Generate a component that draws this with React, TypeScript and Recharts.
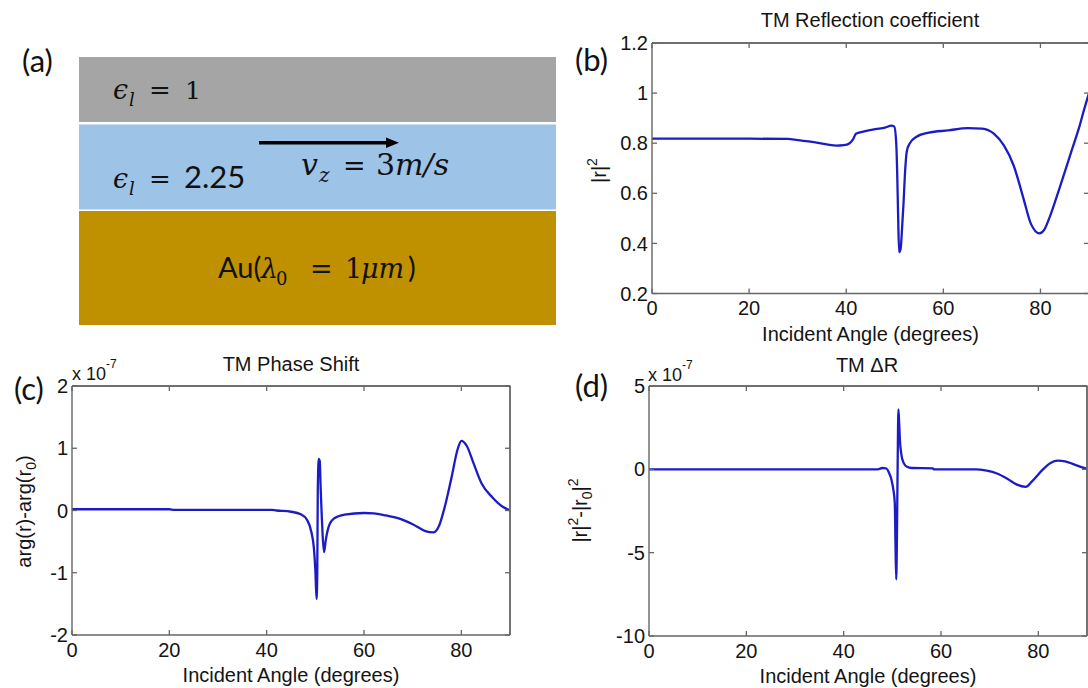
import React from 'react';
import { LineChart, Line, XAxis, YAxis } from 'recharts';

// ---------- data ----------
const anglesB = [0, 10, 20, 28, 30, 33, 36, 38, 39.5, 40.7, 41.4, 42, 43.5, 46, 48, 49.3, 49.9, 50.3, 50.5, 50.7, 50.9, 51.2, 51.5, 51.8, 52.1, 52.5, 53.1, 54.5, 57, 61, 65, 68, 70.4, 72.5, 74.5, 76.5, 78, 79.8, 80.8, 82, 84, 86.5, 88, 89, 90];
const reflB = [0.818, 0.818, 0.818, 0.817, 0.812, 0.805, 0.795, 0.79, 0.792, 0.8, 0.815, 0.838, 0.846, 0.856, 0.862, 0.87, 0.866, 0.8, 0.68, 0.5, 0.365, 0.378, 0.46, 0.56, 0.68, 0.77, 0.8, 0.826, 0.842, 0.851, 0.86, 0.858, 0.838, 0.79, 0.71, 0.58, 0.48, 0.44, 0.455, 0.51, 0.625, 0.775, 0.865, 0.935, 1.0];

const anglesC = [0, 20, 21, 41, 42, 45, 47, 48.3, 49.2, 49.7, 50.0, 50.25, 50.4, 50.5, 50.7, 50.9, 51.1, 51.3, 51.5, 51.8, 52.1, 52.7, 53.8, 56, 60, 62, 64.5, 67.3, 70, 72.6, 74.3, 75.4, 76.5, 77.9, 79.3, 80.0, 81.1, 82.5, 84.2, 86.4, 88.5, 90];
const phaseC = [0.02, 0.02, 0.01, 0.01, 0.0, -0.02, -0.06, -0.15, -0.35, -0.6, -0.95, -1.42, -1.0, 0.3, 0.83, 0.8, 0.35, -0.05, -0.4, -0.67, -0.5, -0.27, -0.13, -0.065, -0.04, -0.045, -0.08, -0.13, -0.22, -0.33, -0.35, -0.25, 0.03, 0.5, 1.0, 1.12, 1.04, 0.76, 0.43, 0.21, 0.06, 0.0];

const anglesD = [0, 47, 48, 48.8, 49.3, 49.8, 50.2, 50.5, 50.65, 50.8, 50.95, 51.1, 51.25, 51.4, 51.55, 51.85, 52.3, 53, 54, 58.3, 58.6, 67, 69.4, 71.5, 73.7, 75.5, 77.4, 78.7, 80.8, 82.5, 84, 85.5, 87.3, 89, 90];
const deltaD = [0, 0, 0.08, 0.05, -0.2, -0.6, -1.2, -2.0, -4.5, -6.6, -4.0, 0.5, 3.6, 2.8, 1.8, 0.9, 0.4, 0.15, 0.08, 0.06, 0.0, 0.0, -0.08, -0.25, -0.58, -0.9, -1.05, -0.72, -0.05, 0.38, 0.52, 0.48, 0.3, 0.12, 0.03];

const xTicks = [0, 20, 40, 60, 80];
const yTicksB = [0.2, 0.4, 0.6, 0.8, 1, 1.2];
const yTicksC = [-2, -1, 0, 1, 2];
const yTicksD = [-10, -5, 0, 5];

const dataB = anglesB.map((a, i) => ({ angle: a, value: reflB[i] }));
const dataC = anglesC.map((a, i) => ({ angle: a, value: phaseC[i] }));
const dataD = anglesD.map((a, i) => ({ angle: a, value: deltaD[i] }));

// ---------- styles ----------
const SANS = "'Liberation Sans', Arial, sans-serif";
const CAL = "Lato, 'Open Sans', sans-serif";
const MATH = "'DejaVu Serif', serif";
const AX = '#666666';
const LINE = '#1c1cc4';
const TXT = '#141414';
const tickStyle = { fill: TXT, fontSize: 20, fontFamily: SANS };
const noTickText = () => <g />;

type Margin = { top: number; right: number; bottom: number; left: number };
type PanelProps = {
  left: number; top: number; width: number; height: number;
  margin: Margin; yWidth: number; xHeight: number;
  data: { angle: number; value: number }[];
  yDomain: [number, number]; yTicks: number[];
  xLabelPos: [number, number];
  yLabel: React.ReactNode; yLabelPos: [number, number];
};

function Panel(p: PanelProps) {
  const xLabel = () => (
    <text x={p.xLabelPos[0]} y={p.xLabelPos[1]} textAnchor="middle" fontSize={20} fontFamily={SANS} fill={TXT}>
      Incident Angle (degrees)
    </text>
  );
  const yLabel = () => (
    <text
      x={p.yLabelPos[0]} y={p.yLabelPos[1]} textAnchor="middle" fontSize={20} fontFamily={SANS} fill={TXT}
      transform={`rotate(-90 ${p.yLabelPos[0]} ${p.yLabelPos[1]})`}
    >
      {p.yLabel}
    </text>
  );
  const axisLine = { stroke: AX, strokeWidth: 1.4 };
  const tickLine = { stroke: AX, strokeWidth: 1.3 };
  return (
    <div style={{ position: 'absolute', left: p.left, top: p.top, width: p.width, height: p.height }}>
      <LineChart width={p.width} height={p.height} data={p.data} margin={p.margin}>
        {/* labelled axes */}
        <XAxis xAxisId="b" dataKey="angle" type="number" domain={[0, 90]} ticks={xTicks} interval={0}
          tickSize={0} tickMargin={7.5} axisLine={axisLine} tickLine={false} tick={tickStyle}
          height={p.xHeight} label={xLabel} allowDataOverflow />
        <YAxis yAxisId="l" type="number" domain={p.yDomain} ticks={p.yTicks} interval={0}
          tickSize={0} tickMargin={4} axisLine={axisLine} tickLine={false} tick={tickStyle}
          width={p.yWidth} label={yLabel} allowDataOverflow />
        {/* mirrored axes: inward tick marks on all four sides */}
        <XAxis xAxisId="bm" dataKey="angle" mirror type="number" domain={[0, 90]} ticks={xTicks} interval={0}
          tickSize={5} tick={noTickText} axisLine={false} tickLine={tickLine} height={1} allowDataOverflow />
        <XAxis xAxisId="tm" dataKey="angle" mirror orientation="top" type="number" domain={[0, 90]} ticks={xTicks} interval={0}
          tickSize={5} tick={noTickText} axisLine={axisLine} tickLine={tickLine} height={1} allowDataOverflow />
        <YAxis yAxisId="lm" mirror type="number" domain={p.yDomain} ticks={p.yTicks} interval={0}
          tickSize={5} tick={noTickText} axisLine={false} tickLine={tickLine} width={1} allowDataOverflow />
        <YAxis yAxisId="rm" mirror orientation="right" type="number" domain={p.yDomain} ticks={p.yTicks} interval={0}
          tickSize={5} tick={noTickText} axisLine={axisLine} tickLine={tickLine} width={1} allowDataOverflow />
        {/* invisible series that bind the frame axes */}
        <Line xAxisId="bm" yAxisId="lm" dataKey="value" stroke="none" strokeWidth={0}
          dot={false} activeDot={false} isAnimationActive={false} />
        <Line xAxisId="tm" yAxisId="rm" dataKey="value" stroke="none" strokeWidth={0}
          dot={false} activeDot={false} isAnimationActive={false} />
        <Line xAxisId="b" yAxisId="l" dataKey="value" type="monotone" stroke={LINE} strokeWidth={2.3}
          dot={false} activeDot={false} isAnimationActive={false} />
      </LineChart>
    </div>
  );
}

export default function App() {
  return (
    <div style={{ position: 'absolute', left: 0, top: 0, width: 1088, height: 688, overflow: 'hidden', background: '#fff' }}>
      {/* (b) */}
      <Panel left={560} top={0} width={540} height={345}
        margin={{ top: 43, right: 11, bottom: 5, left: 30 }} yWidth={62} xHeight={46.5}
        data={dataB} yDomain={[0.2, 1.2]} yTicks={yTicksB}
        xLabelPos={[310.5, 340.5]} yLabelPos={[46, 170.5]}
        yLabel={<>|r|<tspan fontSize={14} dy={-9}>2</tspan></>} />
      {/* (c) */}
      <Panel left={0} top={340} width={540} height={348}
        margin={{ top: 46, right: 30, bottom: 5, left: 12 }} yWidth={60} xHeight={48}
        data={dataC} yDomain={[-2, 2]} yTicks={yTicksC}
        xLabelPos={[291, 342]} yLabelPos={[31, 171.5]}
        yLabel={<>arg(r)-arg(r<tspan fontSize={14} dy={5}>0</tspan><tspan dy={-5}>)</tspan></>} />
      {/* (d) */}
      <Panel left={540} top={340} width={560} height={348}
        margin={{ top: 46, right: 13, bottom: 5, left: 39 }} yWidth={70} xHeight={47}
        data={dataD} yDomain={[-10, 5]} yTicks={yTicksD}
        xLabelPos={[328, 343]} yLabelPos={[47, 170.5]}
        yLabel={<>|r|<tspan fontSize={14} dy={-9}>2</tspan><tspan dy={9}>-|r</tspan><tspan fontSize={14} dy={5}>0</tspan><tspan dy={-5}>|</tspan><tspan fontSize={14} dy={-9}>2</tspan></>} />

      {/* overlay: diagram (a), titles, panel letters, frame closing lines */}
      <svg width={1088} height={688} style={{ position: 'absolute', left: 0, top: 0, pointerEvents: 'none' }}>
        {/* top / right frame edges of the three plots */}
        <g stroke={AX} strokeWidth={1.4} fill="none">
          <polyline points="652,43 1089,43" />
          <polyline points="72,386 510,386 510,635" />
          <polyline points="649,386 1087,386 1087,636" />
        </g>

        {/* layers */}
        <rect x={79} y={57} width={477} height={65} fill="#a5a5a5" />
        <rect x={79} y={124.5} width={477} height={85} fill="#9dc3e6" />
        <rect x={79} y={211} width={477} height={114} fill="#bf9000" />

        {/* row 1 */}
        <text fill="#111" fontFamily={MATH}>
          <tspan x={113} y={99} fontSize={27} fontStyle="italic">ϵ</tspan>
          <tspan x={129} y={106} fontSize={18} fontStyle="italic">l</tspan>
          <tspan x={149} y={99} fontSize={26}>=</tspan>
          <tspan x={185} y={99} fontSize={25}>1</tspan>
        </text>
        {/* row 2 */}
        <text fill="#111" fontFamily={MATH}>
          <tspan x={113} y={188} fontSize={27} fontStyle="italic">ϵ</tspan>
          <tspan x={129} y={195} fontSize={18} fontStyle="italic">l</tspan>
          <tspan x={149} y={188} fontSize={26}>=</tspan>
        </text>
        <text x={184} y={188} fill="#111" fontFamily={CAL} fontSize={31}>2.25</text>
        {/* arrow */}
        <line x1={259} y1={142.7} x2={388} y2={142.7} stroke="#000" strokeWidth={3.5} />
        <polygon points="386,137.5 399,142.7 386,148" fill="#000" />
        <text fill="#111" fontFamily={MATH}>
          <tspan x={301} y={175} fontSize={30} fontStyle="italic">v</tspan>
          <tspan x={319} y={182} fontSize={20} fontStyle="italic">z</tspan>
          <tspan x={343} y={175} fontSize={27}>=</tspan>
          <tspan x={376} y={175} fontSize={30}>3</tspan>
          <tspan fontSize={30} fontStyle="italic">m/s</tspan>
        </text>
        {/* Au row */}
        <text x={218} y={278} fill="#111" fontFamily={CAL} fontSize={29}>Au(</text>
        <text fill="#111" fontFamily={MATH}>
          <tspan x={261} y={278} fontSize={27} fontStyle="italic">λ</tspan>
          <tspan x={276} y={285} fontSize={18}>0</tspan>
          <tspan x={310} y={278} fontSize={27}>=</tspan>
          <tspan x={345} y={278} fontSize={27}>1</tspan>
          <tspan x={361} y={278} fontSize={27} fontStyle="italic">μm</tspan>
        </text>
        <text x={408} y={278} fill="#111" fontFamily={CAL} fontSize={29}>)</text>

        {/* panel letters */}
        <text x={22} y={72} fontFamily={CAL} fontSize={31} fill="#111">(a)</text>
        <text x={575} y={71} fontFamily={CAL} fontSize={31} fill="#111">(b)</text>
        <text x={14} y={400} fontFamily={CAL} fontSize={31} fill="#111">(c)</text>
        <text x={575} y={397} fontFamily={CAL} fontSize={31} fill="#111">(d)</text>

        {/* titles */}
        <text x={870} y={27} textAnchor="middle" fontFamily={SANS} fontSize={20} fill={TXT}>TM Reflection coefficient</text>
        <text x={291} y={371} textAnchor="middle" fontFamily={SANS} fontSize={20} fill={TXT}>TM Phase Shift</text>
        <text x={867} y={372} textAnchor="middle" fontFamily={SANS} fontSize={20} fill={TXT}>TM ΔR</text>

        {/* exponent multipliers */}
        <text x={72} y={380} fontFamily={SANS} fontSize={18} fill={TXT}>x 10<tspan fontSize={12} dy={-12}>-7</tspan></text>
        <text x={648} y={381} fontFamily={SANS} fontSize={18} fill={TXT}>x 10<tspan fontSize={12} dy={-12}>-7</tspan></text>
      </svg>
    </div>
  );
}
